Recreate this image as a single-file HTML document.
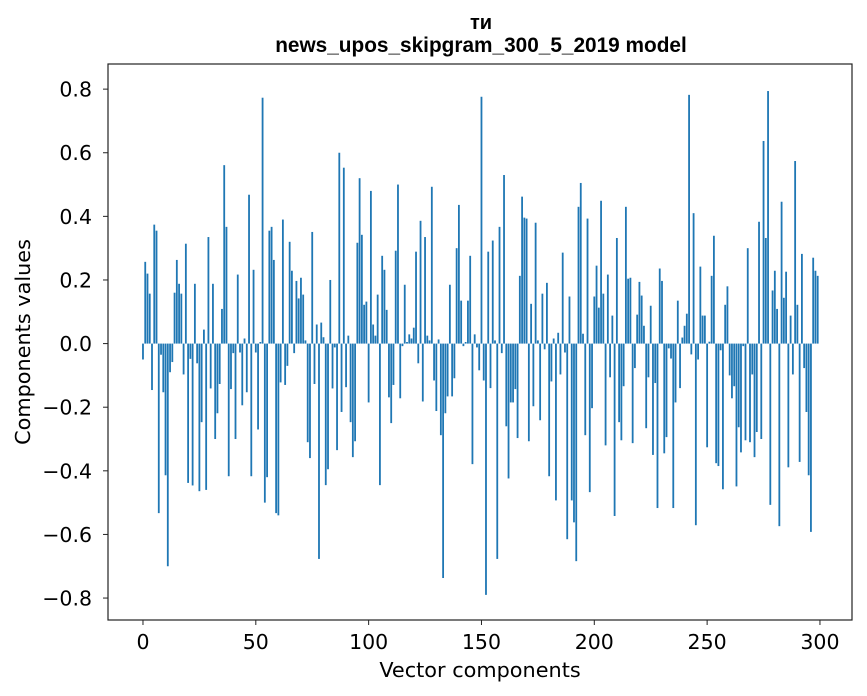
<!DOCTYPE html>
<html><head><meta charset="utf-8"><style>
html,body{margin:0;padding:0;background:#fff;}
svg{display:block;font-family:"DejaVu Sans","Liberation Sans",sans-serif;}
</style></head><body>
<svg id="chart" width="867" height="696" viewBox="0 0 867 696" xmlns="http://www.w3.org/2000/svg">
<rect width="867" height="696" fill="#fff"/>
<text x="481" y="29" text-anchor="middle" font-size="20" font-weight="bold" font-family="Liberation Sans, sans-serif">ти</text>
<text x="481" y="52" text-anchor="middle" font-size="20.8" font-weight="bold" font-family="Liberation Sans, sans-serif">news_upos_skipgram_300_5_2019 model</text>
<g id="bars"></g>
<g id="xticks"></g>
<g id="yticks"></g>
<rect x="108" y="64" width="744" height="556" fill="none" stroke="#222" stroke-width="1.2"/>
<text x="480" y="677" text-anchor="middle" font-size="20.8">Vector components</text>
<text transform="translate(30,342) rotate(-90)" text-anchor="middle" font-size="20.8">Components values</text>
</svg>
<script>
const values = [-0.05,0.257,0.22,0.157,-0.146,0.374,0.355,-0.533,-0.035,-0.153,
-0.414,-0.70,-0.09,-0.058,0.16,0.263,0.188,0.157,-0.097,0.314,
-0.438,-0.048,-0.446,0.188,-0.062,-0.464,-0.247,0.044,-0.46,0.335,
-0.141,0.188,-0.30,-0.219,-0.127,0.109,0.561,0.367,-0.417,-0.143,
-0.03,-0.30,0.217,-0.028,-0.194,0.016,-0.153,0.468,-0.417,0.232,
-0.028,-0.27,0.005,0.773,-0.50,-0.42,0.355,0.367,0.263,-0.533,
-0.54,-0.122,0.39,-0.13,-0.07,0.32,0.229,-0.03,0.197,0.142,
0.207,0.154,0.01,-0.31,-0.36,0.351,-0.127,0.06,-0.677,0.066,
0.02,-0.445,-0.395,0.20,-0.141,-0.012,-0.335,0.60,-0.215,0.553,
-0.137,0.025,-0.247,-0.357,-0.307,0.317,0.52,0.342,0.122,0.132,
-0.185,0.48,0.06,0.025,0.154,-0.445,0.276,0.232,0.106,-0.169,
-0.25,-0.13,0.292,0.50,-0.172,-0.008,0.185,0.005,0.029,0.016,
0.05,0.289,-0.062,0.386,-0.182,0.335,0.025,0.01,0.493,-0.116,
-0.212,0.013,-0.288,-0.737,-0.219,-0.166,0.185,-0.166,-0.109,0.30,
0.436,0.135,-0.008,0.005,0.135,0.276,-0.379,0.029,-0.012,-0.084,
0.776,-0.116,-0.79,0.289,-0.14,0.324,0.01,-0.677,0.367,-0.03,
0.53,-0.26,-0.424,-0.185,-0.185,-0.143,-0.297,0.213,0.462,0.396,
0.393,-0.307,0.125,-0.197,0.38,0.01,-0.241,0.157,-0.018,0.191,
-0.417,-0.119,0.016,-0.493,0.034,-0.097,0.286,-0.028,-0.615,0.148,
-0.493,-0.562,-0.684,0.43,0.505,0.031,-0.288,0.393,-0.467,-0.203,
0.148,0.245,0.113,0.449,0.157,-0.32,0.217,-0.106,0.088,-0.542,
0.332,-0.247,-0.304,-0.134,0.43,0.204,0.207,-0.313,-0.077,0.091,
0.194,0.151,0.056,-0.266,-0.106,0.119,-0.35,-0.124,-0.517,0.236,
0.197,-0.345,-0.294,-0.015,-0.047,-0.517,-0.185,0.135,-0.14,0.019,
0.056,0.094,0.782,-0.034,0.41,-0.571,-0.05,0.242,0.088,0.088,
-0.326,0.006,0.213,0.339,-0.376,-0.385,-0.021,-0.458,0.122,0.18,
-0.1,-0.172,-0.134,-0.449,-0.263,-0.342,-0.008,-0.304,0.30,-0.31,
-0.097,-0.357,-0.278,0.383,-0.30,0.637,0.332,0.794,-0.507,0.167,
0.229,0.109,-0.574,0.446,0.144,0.226,-0.389,0.088,-0.097,0.574,
0.122,-0.372,0.282,-0.077,-0.215,-0.414,-0.592,0.27,0.229,0.213];
const xTickValues = [0,50,100,150,200,250,300];
const yTickValues = [-0.8,-0.6,-0.4,-0.2,0.0,0.2,0.4,0.6,0.8];
const yTickLabels = ["\u22120.8","\u22120.6","\u22120.4","\u22120.2","0.0","0.2","0.4","0.6","0.8"];

const NS = "http://www.w3.org/2000/svg";
const L=108,R=852,T=64,B=620;
const xMin=-15.5,xMax=314.2,yMin=-0.869,yMax=0.879;
function xScale(v){return L+(v-xMin)/(xMax-xMin)*(R-L);}
function yScale(v){return B-(v-yMin)/(yMax-yMin)*(B-T);}

const bars=document.getElementById('bars');
const bw=xScale(0.8)-xScale(0);
values.forEach((v,i)=>{
  const r=document.createElementNS(NS,'rect');
  const y0=yScale(0),y1=yScale(v);
  r.setAttribute('x',xScale(i)-bw/2);
  r.setAttribute('y',Math.min(y0,y1));
  r.setAttribute('width',bw);
  r.setAttribute('height',Math.max(Math.abs(y1-y0),0.3));
  r.setAttribute('fill','#1f77b4');
  
  
  bars.appendChild(r);
});
const xg=document.getElementById('xticks');
xTickValues.forEach(v=>{
  const x=xScale(v);
  const l=document.createElementNS(NS,'line');
  l.setAttribute('x1',x);l.setAttribute('x2',x);l.setAttribute('y1',B);l.setAttribute('y2',B+5);
  l.setAttribute('stroke','#222');
  
  
  xg.appendChild(l);
  const t=document.createElementNS(NS,'text');
  t.setAttribute('x',x);t.setAttribute('y',B+29);t.setAttribute('text-anchor','middle');t.setAttribute('font-size','20.5');
  t.textContent=v;
  
  
  xg.appendChild(t);
});
const yg=document.getElementById('yticks');
yTickValues.forEach((v,i)=>{
  const y=yScale(v);
  const l=document.createElementNS(NS,'line');
  l.setAttribute('x1',L-5);l.setAttribute('x2',L);l.setAttribute('y1',y);l.setAttribute('y2',y);
  l.setAttribute('stroke','#222');
  
  
  yg.appendChild(l);
  const t=document.createElementNS(NS,'text');
  t.setAttribute('x',L-16);t.setAttribute('y',y+7.5);t.setAttribute('text-anchor','end');t.setAttribute('font-size','20.5');
  t.textContent=yTickLabels[i];
  
  
  yg.appendChild(t);
});
</script>
</body></html>
